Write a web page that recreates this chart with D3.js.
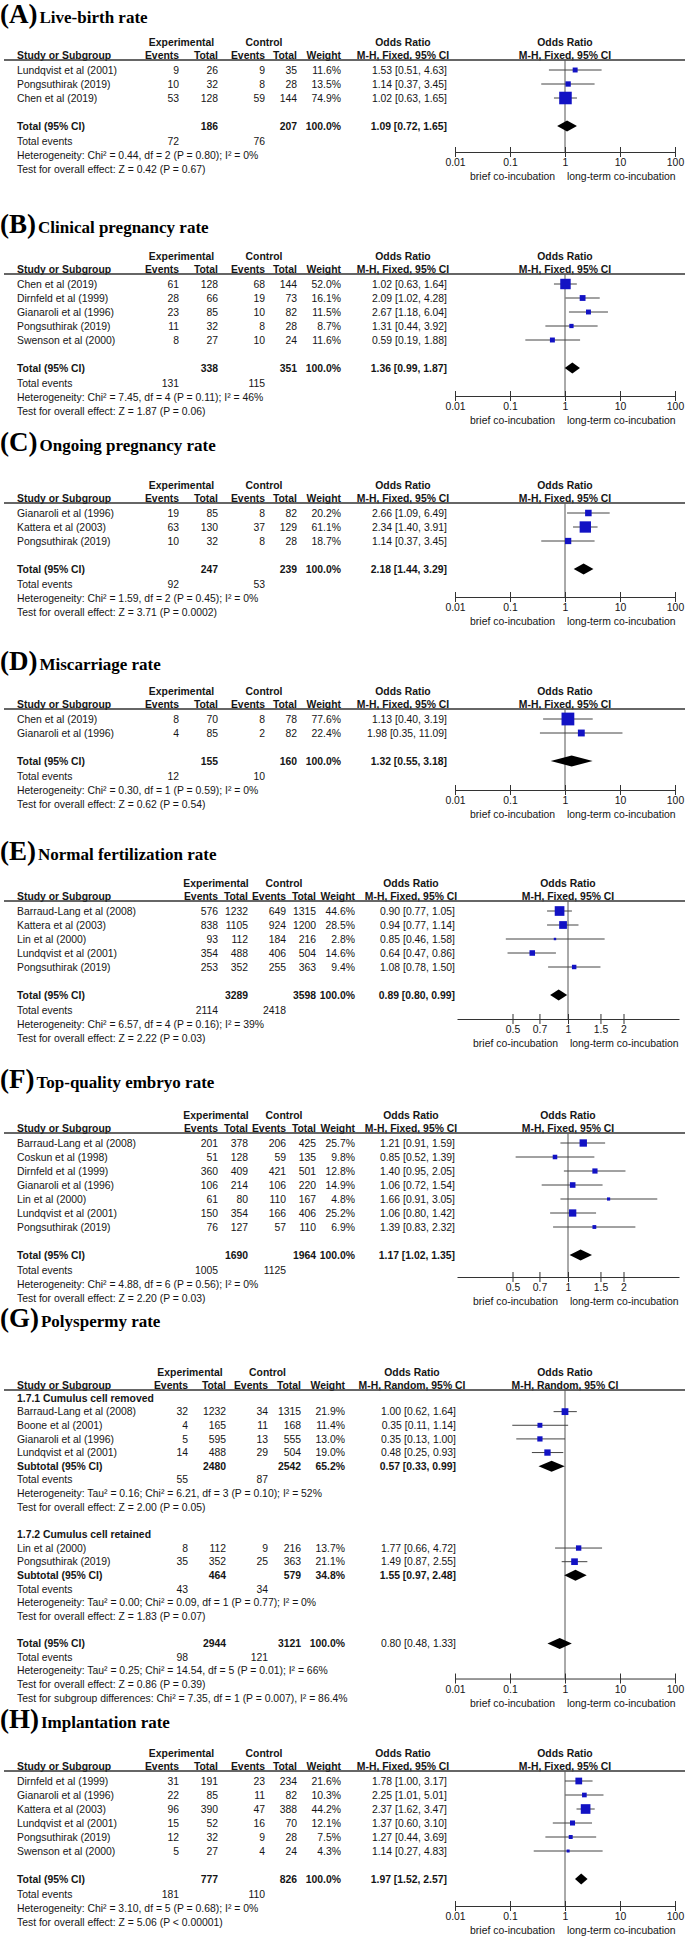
<!DOCTYPE html>
<html><head><meta charset="utf-8">
<script src="https://cdn.jsdelivr.net/npm/d3@7"></script>
<style>
html,body{margin:0;padding:0;background:#fff;}
svg{display:block;}
text{font-family:"Liberation Sans",Arial,sans-serif;fill:#151515;}
text.ttl{font-family:"Liberation Serif","Times New Roman",serif;font-weight:bold;fill:#000;}
</style></head><body>
<svg id="chart" width="685" height="1937"></svg>
<script>
// ---------- DATA ----------
// row: [study, expEvents, expTotal, ctlEvents, ctlTotal, weight %, OR, lower, upper]
const panelTitles = [["(A)","Live-birth rate"],["(B)","Clinical pregnancy rate"],["(C)","Ongoing pregnancy rate"],["(D)","Miscarriage rate"],["(E)","Normal fertilization rate"],["(F)","Top-quality embryo rate"],["(G)","Polyspermy rate"],["(H)","Implantation rate"]];

const A_rows = [
  ["Lundqvist et al (2001)", 9, 26, 9, 35, 11.6, 1.53, 0.51, 4.63],
  ["Pongsuthirak (2019)", 10, 32, 8, 28, 13.5, 1.14, 0.37, 3.45],
  ["Chen et al (2019)", 53, 128, 59, 144, 74.9, 1.02, 0.63, 1.65]];
const A_total = [186, 207, 100.0, 1.09, 0.72, 1.65];
const A_events = [72, 76];
const A_stats = ["Heterogeneity: Chi² = 0.44, df = 2 (P = 0.80); I² = 0%", "Test for overall effect: Z = 0.42 (P = 0.67)"];

const B_rows = [
  ["Chen et al (2019)", 61, 128, 68, 144, 52.0, 1.02, 0.63, 1.64],
  ["Dirnfeld et al (1999)", 28, 66, 19, 73, 16.1, 2.09, 1.02, 4.28],
  ["Gianaroli et al (1996)", 23, 85, 10, 82, 11.5, 2.67, 1.18, 6.04],
  ["Pongsuthirak (2019)", 11, 32, 8, 28, 8.7, 1.31, 0.44, 3.92],
  ["Swenson et al (2000)", 8, 27, 10, 24, 11.6, 0.59, 0.19, 1.88]];
const B_total = [338, 351, 100.0, 1.36, 0.99, 1.87];
const B_events = [131, 115];
const B_stats = ["Heterogeneity: Chi² = 7.45, df = 4 (P = 0.11); I² = 46%", "Test for overall effect: Z = 1.87 (P = 0.06)"];

const C_rows = [
  ["Gianaroli et al (1996)", 19, 85, 8, 82, 20.2, 2.66, 1.09, 6.49],
  ["Kattera et al (2003)", 63, 130, 37, 129, 61.1, 2.34, 1.40, 3.91],
  ["Pongsuthirak (2019)", 10, 32, 8, 28, 18.7, 1.14, 0.37, 3.45]];
const C_total = [247, 239, 100.0, 2.18, 1.44, 3.29];
const C_events = [92, 53];
const C_stats = ["Heterogeneity: Chi² = 1.59, df = 2 (P = 0.45); I² = 0%", "Test for overall effect: Z = 3.71 (P = 0.0002)"];

const D_rows = [
  ["Chen et al (2019)", 8, 70, 8, 78, 77.6, 1.13, 0.40, 3.19],
  ["Gianaroli et al (1996)", 4, 85, 2, 82, 22.4, 1.98, 0.35, 11.09]];
const D_total = [155, 160, 100.0, 1.32, 0.55, 3.18];
const D_events = [12, 10];
const D_stats = ["Heterogeneity: Chi² = 0.30, df = 1 (P = 0.59); I² = 0%", "Test for overall effect: Z = 0.62 (P = 0.54)"];

const E_rows = [
  ["Barraud-Lang et al (2008)", 576, 1232, 649, 1315, 44.6, 0.90, 0.77, 1.05],
  ["Kattera et al (2003)", 838, 1105, 924, 1200, 28.5, 0.94, 0.77, 1.14],
  ["Lin et al (2000)", 93, 112, 184, 216, 2.8, 0.85, 0.46, 1.58],
  ["Lundqvist et al (2001)", 354, 488, 406, 504, 14.6, 0.64, 0.47, 0.86],
  ["Pongsuthirak (2019)", 253, 352, 255, 363, 9.4, 1.08, 0.78, 1.50]];
const E_total = [3289, 3598, 100.0, 0.89, 0.80, 0.99];
const E_events = [2114, 2418];
const E_stats = ["Heterogeneity: Chi² = 6.57, df = 4 (P = 0.16); I² = 39%", "Test for overall effect: Z = 2.22 (P = 0.03)"];

const F_rows = [
  ["Barraud-Lang et al (2008)", 201, 378, 206, 425, 25.7, 1.21, 0.91, 1.59],
  ["Coskun et al (1998)", 51, 128, 59, 135, 9.8, 0.85, 0.52, 1.39],
  ["Dirnfeld et al (1999)", 360, 409, 421, 501, 12.8, 1.40, 0.95, 2.05],
  ["Gianaroli et al (1996)", 106, 214, 106, 220, 14.9, 1.06, 0.72, 1.54],
  ["Lin et al (2000)", 61, 80, 110, 167, 4.8, 1.66, 0.91, 3.05],
  ["Lundqvist et al (2001)", 150, 354, 166, 406, 25.2, 1.06, 0.80, 1.42],
  ["Pongsuthirak (2019)", 76, 127, 57, 110, 6.9, 1.39, 0.83, 2.32]];
const F_total = [1690, 1964, 100.0, 1.17, 1.02, 1.35];
const F_events = [1005, 1125];
const F_stats = ["Heterogeneity: Chi² = 4.88, df = 6 (P = 0.56); I² = 0%", "Test for overall effect: Z = 2.20 (P = 0.03)"];

const G_sub1_label = "1.7.1 Cumulus cell removed";
const G_sub1_rows = [
  ["Barraud-Lang et al (2008)", 32, 1232, 34, 1315, 21.9, 1.00, 0.62, 1.64],
  ["Boone et al (2001)", 4, 165, 11, 168, 11.4, 0.35, 0.11, 1.14],
  ["Gianaroli et al (1996)", 5, 595, 13, 555, 13.0, 0.35, 0.13, 1.00],
  ["Lundqvist et al (2001)", 14, 488, 29, 504, 19.0, 0.48, 0.25, 0.93]];
const G_sub1_total = [2480, 2542, 65.2, 0.57, 0.33, 0.99];
const G_sub1_events = [55, 87];
const G_sub1_stats = ["Heterogeneity: Tau² = 0.16; Chi² = 6.21, df = 3 (P = 0.10); I² = 52%", "Test for overall effect: Z = 2.00 (P = 0.05)"];
const G_sub2_label = "1.7.2 Cumulus cell retained";
const G_sub2_rows = [
  ["Lin et al (2000)", 8, 112, 9, 216, 13.7, 1.77, 0.66, 4.72],
  ["Pongsuthirak (2019)", 35, 352, 25, 363, 21.1, 1.49, 0.87, 2.55]];
const G_sub2_total = [464, 579, 34.8, 1.55, 0.97, 2.48];
const G_sub2_events = [43, 34];
const G_sub2_stats = ["Heterogeneity: Tau² = 0.00; Chi² = 0.09, df = 1 (P = 0.77); I² = 0%", "Test for overall effect: Z = 1.83 (P = 0.07)"];
const G_total = [2944, 3121, 100.0, 0.80, 0.48, 1.33];
const G_events = [98, 121];
const G_stats = ["Heterogeneity: Tau² = 0.25; Chi² = 14.54, df = 5 (P = 0.01); I² = 66%", "Test for overall effect: Z = 0.86 (P = 0.39)", "Test for subgroup differences: Chi² = 7.35, df = 1 (P = 0.007), I² = 86.4%"];

const H_rows = [
  ["Dirnfeld et al (1999)", 31, 191, 23, 234, 21.6, 1.78, 1.00, 3.17],
  ["Gianaroli et al (1996)", 22, 85, 11, 82, 10.3, 2.25, 1.01, 5.01],
  ["Kattera et al (2003)", 96, 390, 47, 388, 44.2, 2.37, 1.62, 3.47],
  ["Lundqvist et al (2001)", 15, 52, 16, 70, 12.1, 1.37, 0.60, 3.10],
  ["Pongsuthirak (2019)", 12, 32, 9, 28, 7.5, 1.27, 0.44, 3.69],
  ["Swenson et al (2000)", 5, 27, 4, 24, 4.3, 1.14, 0.27, 4.83]];
const H_total = [777, 826, 100.0, 1.97, 1.52, 2.57];
const H_events = [181, 110];
const H_stats = ["Heterogeneity: Chi² = 3.10, df = 5 (P = 0.68); I² = 0%", "Test for overall effect: Z = 5.06 (P < 0.00001)"];

const wideTicks = [0.01, 0.1, 1, 10, 100];
const narrowTicks = [0.5, 0.7, 1, 1.5, 2];
const dirLabels = ["brief co-incubation", "long-term co-incubation"];
const methodFixed = "M-H, Fixed, 95% CI";
const methodRandom = "M-H, Random, 95% CI";

// ---------- LAYOUT ----------
const FS = 10.4;
const STUDY_X = 17;
const COLS_STD = {expEv:179, expTot:218, ctlEv:265, ctlTot:297, weight:341, ci:447};
const COLS_E = {expEv:218, expTot:248, ctlEv:286, ctlTot:316, weight:355, ci:455};
const COLS_G = {expEv:188, expTot:226, ctlEv:268, ctlTot:301, weight:345, ci:456};
const WIDE = {domain:[0.01,100], range:[455,675], ticks:wideTicks};
const NARROW = {domain:[0.25,4], range:[457,679], ticks:narrowTicks};

const svg = d3.select("#chart");
const fmtW = w => w.toFixed(1) + "%";
const fmtCI = (o,l,h) => `${o.toFixed(2)} [${l.toFixed(2)}, ${h.toFixed(2)}]`;

function stdLines(rows, total, events, stats, L){
  const out = [];
  rows.forEach((r,i) => out.push({kind:"study", y:L+10+14*i, r}));
  const ty = L + 10 + 14*(rows.length+1);
  out.push({kind:"total", y:ty, label:"Total (95% CI)", t:total, ciBold:true});
  out.push({kind:"events", y:ty+15, e:events});
  stats.forEach((s,i) => out.push({kind:"text", y:ty+29+14*i, s}));
  return {lines:out, totalY:ty};
}

function gLines(L){
  const out = [];
  const P = 13.64, y0 = L + 8;
  let k = 0;
  const Y = () => y0 + P*(k++);
  out.push({kind:"text", y:Y(), s:G_sub1_label, bold:true});
  G_sub1_rows.forEach(r => out.push({kind:"study", y:Y(), r}));
  out.push({kind:"total", y:Y(), label:"Subtotal (95% CI)", t:G_sub1_total, ciBold:true});
  out.push({kind:"events", y:Y(), e:G_sub1_events});
  G_sub1_stats.forEach(s => out.push({kind:"text", y:Y(), s}));
  k++;
  out.push({kind:"text", y:Y(), s:G_sub2_label, bold:true});
  G_sub2_rows.forEach(r => out.push({kind:"study", y:Y(), r}));
  out.push({kind:"total", y:Y(), label:"Subtotal (95% CI)", t:G_sub2_total, ciBold:true});
  out.push({kind:"events", y:Y(), e:G_sub2_events});
  G_sub2_stats.forEach(s => out.push({kind:"text", y:Y(), s}));
  k++;
  const ty = Y();
  out.push({kind:"total", y:ty, label:"Total (95% CI)", t:G_total, ciBold:false});
  out.push({kind:"events", y:Y(), e:G_events});
  G_stats.forEach(s => out.push({kind:"text", y:Y(), s}));
  return {lines:out, totalY:ty};
}

function drawPanel(p){
  const g = svg.append("g");
  const c = p.cols, L = p.L, sc = p.scale;
  const x = d3.scaleLog().domain(sc.domain).range(sc.range);
  const x1 = x(1);
  const T = (xx, yy, s, anchor, bold) => g.append("text").attr("x", xx).attr("y", yy)
      .attr("text-anchor", anchor || "start").attr("font-size", FS)
      .attr("font-weight", bold ? "bold" : null).text(s);

  // title
  const t = g.append("text").attr("class","ttl").attr("x", 0).attr("y", p.titleY);
  t.append("tspan").attr("font-size", 27).text(p.title[0]);
  t.append("tspan").attr("font-size", 17).attr("dx", 2).text(p.title[1]);

  // headers
  const h1 = L - 14, h2 = L - 1.5;
  T((c.expEv - 34 + c.expTot)/2, h1, "Experimental", "middle", true);
  T((c.ctlEv - 34 + c.ctlTot)/2, h1, "Control", "middle", true);
  T(c.ci - 44, h1, "Odds Ratio", "middle", true);
  T(x1, h1, "Odds Ratio", "middle", true);
  T(STUDY_X, h2, "Study or Subgroup", "start", true);
  T(c.expEv, h2, "Events", "end", true);
  T(c.expTot, h2, "Total", "end", true);
  T(c.ctlEv, h2, "Events", "end", true);
  T(c.ctlTot, h2, "Total", "end", true);
  T(c.weight, h2, "Weight", "end", true);
  T(c.ci - 44, h2, p.method, "middle", true);
  T(x1, h2, p.method, "middle", true);
  g.append("line").attr("x1", 4).attr("x2", 685).attr("y1", L).attr("y2", L)
    .attr("stroke", "#333").attr("stroke-width", 1.5);

  const built = p.build(L);
  const axisY = built.totalY + p.axisDy;

  // reference line at OR = 1
  g.append("line").attr("x1", x1).attr("x2", x1).attr("y1", L).attr("y2", axisY)
    .attr("stroke", "#555").attr("stroke-width", 1);

  built.lines.forEach(ln => {
    const yb = ln.y + 3.6;
    if (ln.kind === "study") {
      const r = ln.r;
      T(STUDY_X, yb, r[0]);
      T(c.expEv, yb, r[1], "end");
      T(c.expTot, yb, r[2], "end");
      T(c.ctlEv, yb, r[3], "end");
      T(c.ctlTot, yb, r[4], "end");
      T(c.weight, yb, fmtW(r[5]), "end");
      T(c.ci, yb, fmtCI(r[6], r[7], r[8]), "end");
      g.append("line").attr("x1", x(r[7])).attr("x2", x(r[8])).attr("y1", ln.y).attr("y2", ln.y)
        .attr("stroke", "#444").attr("stroke-width", 1);
      const s = Math.max(2.2, 1.45*Math.sqrt(r[5]));
      g.append("rect").attr("x", x(r[6]) - s/2).attr("y", ln.y - s/2).attr("width", s).attr("height", s)
        .attr("fill", "#1212c4");
    } else if (ln.kind === "total") {
      const tt = ln.t;
      T(STUDY_X, yb, ln.label, "start", true);
      T(c.expTot, yb, tt[0], "end", true);
      T(c.ctlTot, yb, tt[1], "end", true);
      T(c.weight, yb, fmtW(tt[2]), "end", true);
      T(c.ci, yb, fmtCI(tt[3], tt[4], tt[5]), "end", ln.ciBold);
      const dh = 5.5;
      g.append("path").attr("d", `M${x(tt[4])},${ln.y}L${x(tt[3])},${ln.y-dh}L${x(tt[5])},${ln.y}L${x(tt[3])},${ln.y+dh}Z`)
        .attr("fill", "#000");
    } else if (ln.kind === "events") {
      T(STUDY_X, yb, "Total events");
      T(c.expEv, yb, ln.e[0], "end");
      T(c.ctlEv, yb, ln.e[1], "end");
    } else {
      T(STUDY_X, yb, ln.s, "start", ln.bold);
    }
  });

  // axis
  const ax = g.append("g").attr("transform", `translate(0,${axisY})`)
    .call(d3.axisBottom(x).tickValues(sc.ticks).tickFormat(d => String(d)).tickSize(0).tickSizeOuter(0));
  ax.attr("font-size", null).attr("font-family", null);
  ax.select(".domain").attr("stroke", "#333");
  ax.selectAll(".tick").append("line").attr("y1", -5).attr("y2", 5).attr("stroke", "#333");
  ax.selectAll(".tick text").attr("y", 7).attr("font-size", FS).attr("fill", "#151515");
  T(x1 - 10, axisY + 28, dirLabels[0], "end");
  T(x1 + 2, axisY + 28, dirLabels[1], "start");
}

const panels = [
  {title:panelTitles[0], L:60,   titleY:23,   cols:COLS_STD, scale:WIDE,   method:methodFixed,  axisDy:26, build:L=>stdLines(A_rows,A_total,A_events,A_stats,L)},
  {title:panelTitles[1], L:274,  titleY:233,  cols:COLS_STD, scale:WIDE,   method:methodFixed,  axisDy:28, build:L=>stdLines(B_rows,B_total,B_events,B_stats,L)},
  {title:panelTitles[2], L:503,  titleY:451,  cols:COLS_STD, scale:WIDE,   method:methodFixed,  axisDy:28, build:L=>stdLines(C_rows,C_total,C_events,C_stats,L)},
  {title:panelTitles[3], L:709,  titleY:670,  cols:COLS_STD, scale:WIDE,   method:methodFixed,  axisDy:29, build:L=>stdLines(D_rows,D_total,D_events,D_stats,L)},
  {title:panelTitles[4], L:901,  titleY:860,  cols:COLS_E,   scale:NARROW, method:methodFixed,  axisDy:24, build:L=>stdLines(E_rows,E_total,E_events,E_stats,L)},
  {title:panelTitles[5], L:1133, titleY:1088, cols:COLS_E,   scale:NARROW, method:methodFixed,  axisDy:22, build:L=>stdLines(F_rows,F_total,F_events,F_stats,L)},
  {title:panelTitles[6], L:1390, titleY:1327, cols:COLS_G,   scale:WIDE,   method:methodRandom, axisDy:35, build:L=>gLines(L)},
  {title:panelTitles[7], L:1771, titleY:1728, cols:COLS_STD, scale:WIDE,   method:methodFixed,  axisDy:27, build:L=>stdLines(H_rows,H_total,H_events,H_stats,L)}
];
panels.forEach(drawPanel);
</script></body></html>
